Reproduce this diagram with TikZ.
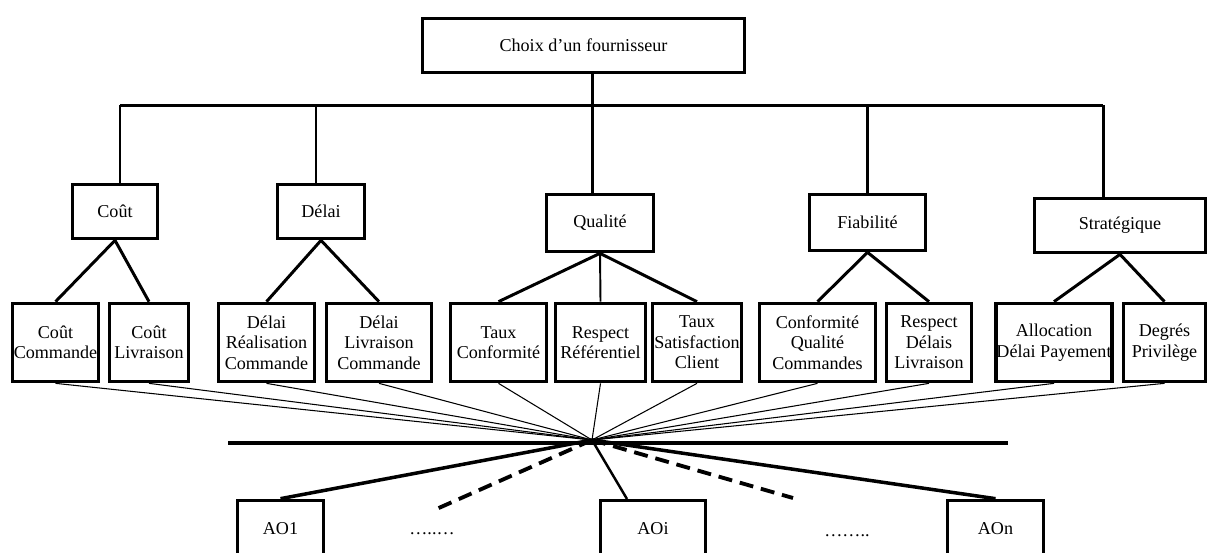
\documentclass[tikz,border=0pt]{standalone}
\usepackage{fontspec}
\setmainfont{Liberation Serif}
\usetikzlibrary{positioning, calc}
\tikzset{
    critbox/.style={rectangle, draw=black, line width=2.1pt, fill=white, minimum width=#1, minimum height=1.08cm, align=center, inner sep=0.5pt, font=\fontsize{10.3}{11.6}\selectfont},
    leafbox/.style={rectangle, draw=black, line width=2.1pt, fill=white, minimum width=#1, minimum height=1.56cm, align=center, inner sep=0.3pt, font=\fontsize{10.3}{11.6}\selectfont},
    aobox/.style={rectangle, draw=black, line width=2.1pt, fill=white, minimum width=#1, minimum height=1.14cm, align=center, inner sep=0.5pt, font=\fontsize{10.3}{11.6}\selectfont},
    dots/.style={font=\fontsize{10.3}{11.6}\selectfont, inner sep=0pt},
    lien/.style={line width=1.7pt, black},
    lienfin/.style={line width=0.6pt, black},
    lienao/.style={line width=2pt, black},
    liendash/.style={line width=2.2pt, black, dash pattern=on 8pt off 4.5pt}
}

\begin{document}
\begin{tikzpicture}[x=0.02cm, y=-0.02cm]
    \useasboundingbox (0,0) rectangle (1209,552);
    \clip (0,0) rectangle (1209,552);

    \node[critbox=6.44cm] (top) at (583.5,45.5) {Choix d’un fournisseur};

    \coordinate (b1) at (120,105);
    \coordinate (b2) at (316,105);
    \coordinate (b3) at (592,105);
    \coordinate (b4) at (867,105);
    \coordinate (b5) at (1103,105);

    \node[critbox=1.70cm] (cout) at (115,211.5) {Coût};
    \node[critbox=1.74cm] (delai) at (321,211.5) {Délai};
    \node[critbox=2.14cm, minimum height=1.14cm] (qualite) at (600,223) {Qualité};
    \node[critbox=2.32cm, minimum height=1.12cm] (fiab) at (867.5,222.5) {Fiabilité};
    \node[critbox=3.42cm] (strat) at (1120,225.5) {Stratégique};

    \node[leafbox=1.72cm] (cc) at (55.5,342.5) {Coût\\Commande};
    \node[leafbox=1.58cm] (cl) at (149,342.5) {Coût\\Livraison};
    \node[leafbox=1.92cm] (drc) at (266.5,342.5) {Délai\\Réalisation\\Commande};
    \node[leafbox=2.10cm] (dlc) at (379,342.5) {Délai\\Livraison\\Commande};
    \node[leafbox=1.92cm] (tc) at (498.5,342.5) {Taux\\Conformité};
    \node[leafbox=1.80cm] (rr) at (600.5,342.5) {Respect\\Référentiel};
    \node[leafbox=1.78cm] (tsc) at (697,342.5) {Taux\\Satisfaction\\Client};
    \node[leafbox=2.32cm] (cqc) at (817.5,342.5) {Conformité\\Qualité\\Commandes};
    \node[leafbox=1.70cm] (rdl) at (929,342.5) {Respect\\Délais\\Livraison};
    \node[leafbox=2.30cm] (adp) at (1054,342.5) {Allocation\\Délai Payement};
    \node[leafbox=1.64cm] (dp) at (1164.5,342.5) {Degrés\\Privilège};

    \coordinate (hub) at (592,440);
    \coordinate (g2) at (228,443);
    \coordinate (d2) at (1008,443);
    \coordinate (dashg) at (432,511);
    \coordinate (dashd) at (793,498);

    \node[aobox=1.72cm] (ao1) at (280.5,529) {AO1};
    \node[aobox=2.10cm] (aoi) at (653,529) {AOi};
    \node[aobox=1.92cm] (aon) at (995.5,529) {AOn};
    \node[dots] (pts1) at (432,534) {…..…};
    \node[dots] (pts2) at (847,536) {……..};
    \coordinate (aoihaut) at (627,499);

    \draw[lien] (top.south -| b3) -- (b3);
    \draw[lien] (b1) -- (b5);
    \draw[lien] (b1) -- (b1 |- cout.north);
    \draw[lien] (b2) -- (b2 |- delai.north);
    \draw[lien] (b3) -- (b3 |- qualite.north);
    \draw[lien] (b4) -- (b4 |- fiab.north);
    \draw[lien] (b5) -- (b5 |- strat.north);

    \draw[lien] (cout.south) -- (cc.north);
    \draw[lien] (cout.south) -- (cl.north);
    \draw[lien] (delai.south) -- (drc.north);
    \draw[lien] (delai.south) -- (dlc.north);
    \draw[lien] (qualite.south) -- (tc.north);
    \draw[lien, line width=1.1pt] (qualite.south) -- (rr.north);
    \draw[lien] (qualite.south) -- (tsc.north);
    \draw[lien] (fiab.south) -- (cqc.north);
    \draw[lien] (fiab.south) -- (rdl.north);
    \draw[lien] (strat.south) -- (adp.north);
    \draw[lien] (strat.south) -- (dp.north);

    \draw[lienfin] (cc.south) -- (hub);
    \draw[lienfin] (cl.south) -- (hub);
    \draw[lienfin] (drc.south) -- (hub);
    \draw[lienfin] (dlc.south) -- (hub);
    \draw[lienfin] (tc.south) -- (hub);
    \draw[lienfin] (rr.south) -- (hub);
    \draw[lienfin] (tsc.south) -- (hub);
    \draw[lienfin] (cqc.south) -- (hub);
    \draw[lienfin] (rdl.south) -- (hub);
    \draw[lienfin] (adp.south) -- (hub);
    \draw[lienfin] (dp.south) -- (hub);

    \draw[lienao] (g2) -- (d2);
    \draw[lienao] (hub) -- (ao1.north);
    \draw[lienao, line width=1.4pt] (hub) -- (aoihaut);
    \draw[lienao] (hub) -- (aon.north);
    \draw[liendash] (hub) -- (dashg);
    \draw[liendash] (hub) -- (dashd);
\end{tikzpicture}
\end{document}
